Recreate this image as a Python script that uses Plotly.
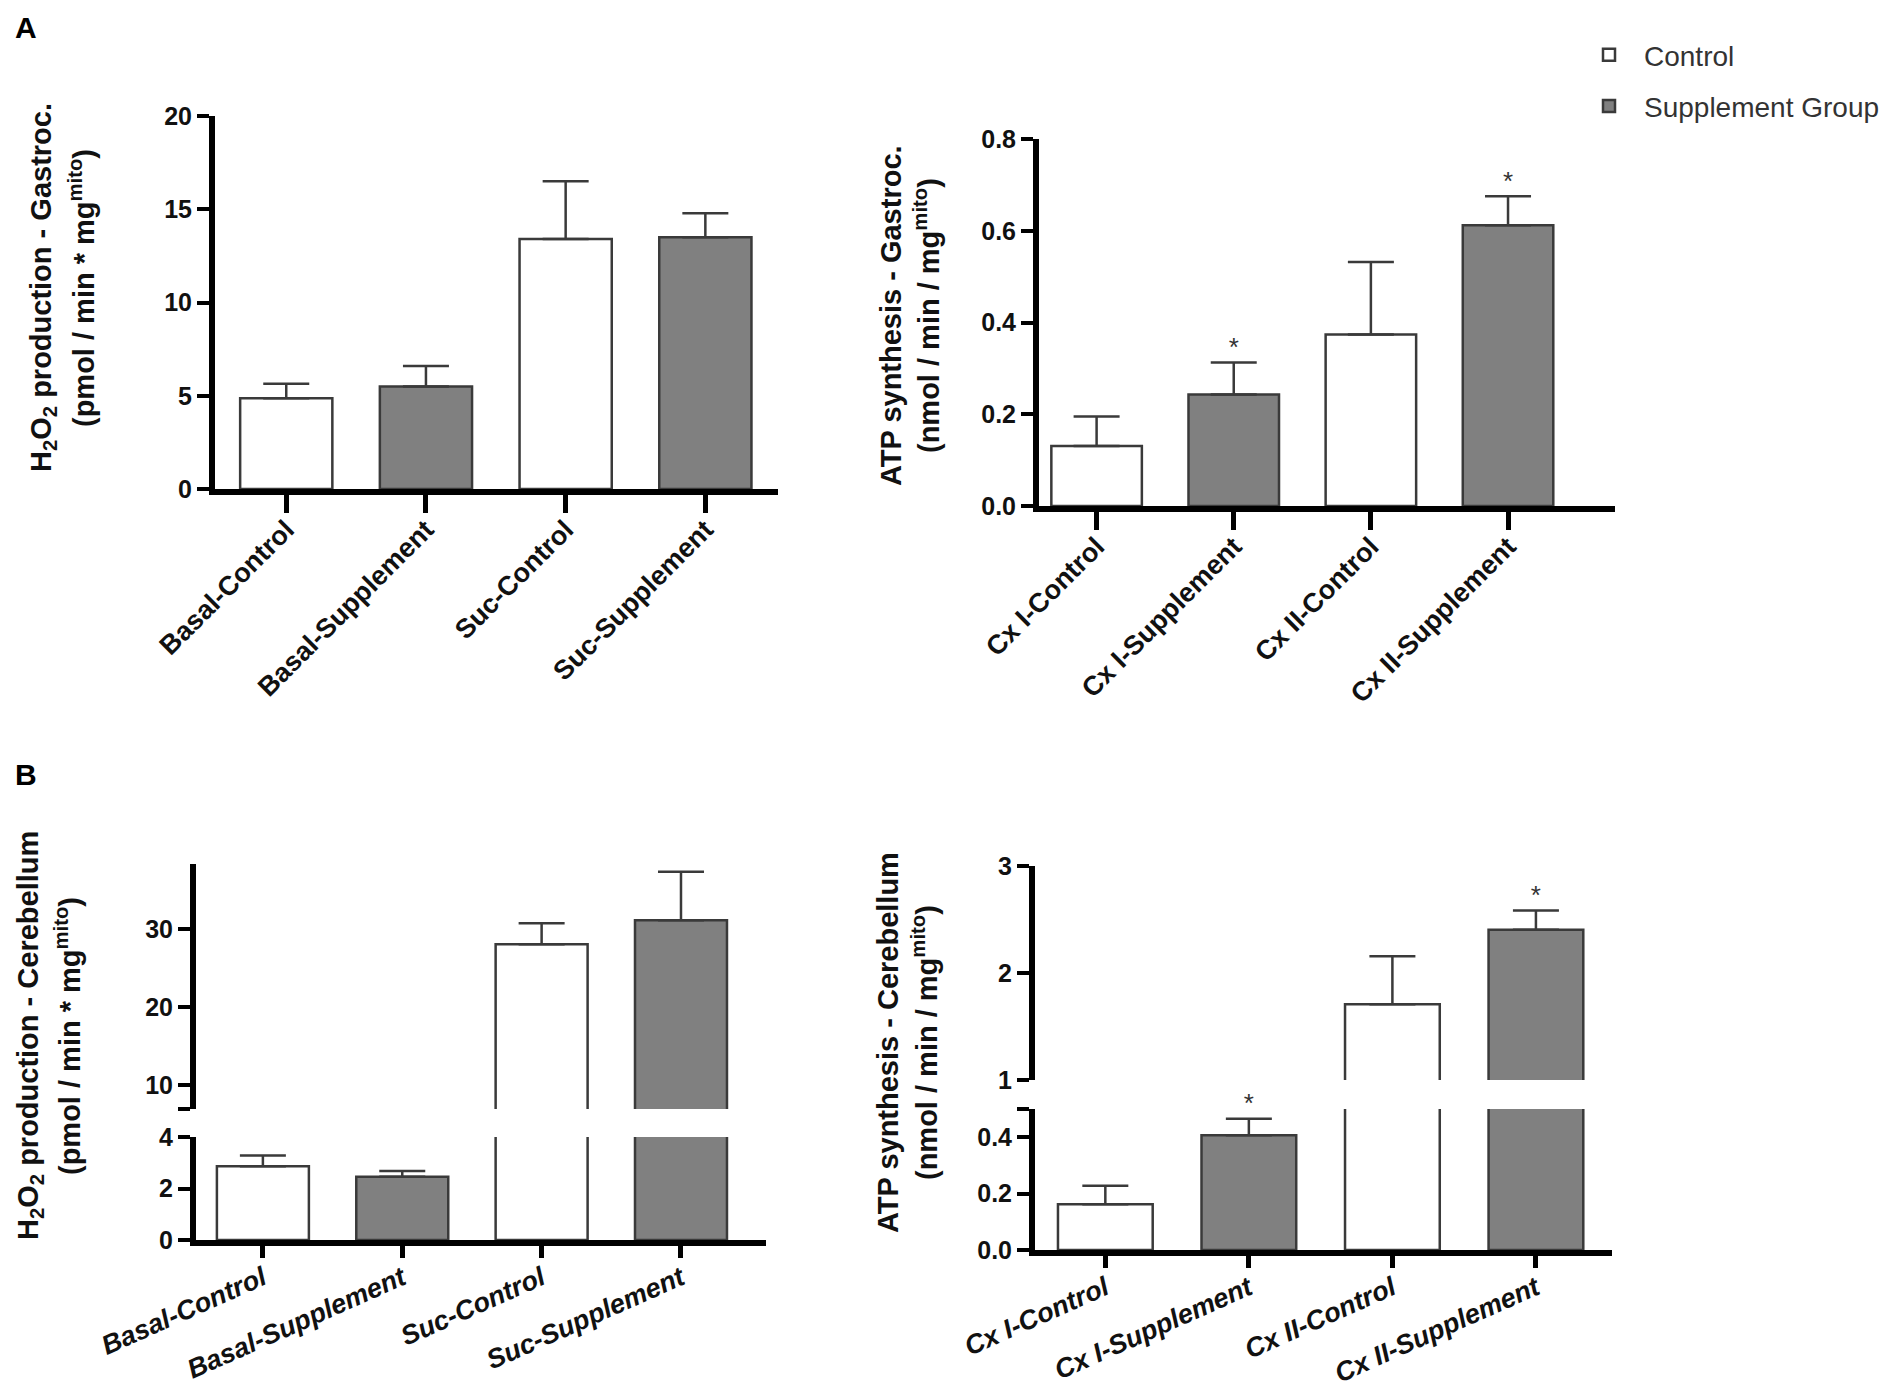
"""Mitochondrial H2O2 production / ATP synthesis, gastrocnemius (A) and cerebellum (B)."""
import plotly.graph_objects as go

W, H = 1902, 1399

GROUPS = ["Control", "Supplement Group"]
BAR_GROUP = [0, 1, 0, 1]  # which group each category belongs to

H2O2_CATS = ["Basal-Control", "Basal-Supplement", "Suc-Control", "Suc-Supplement"]
ATP_CATS = ["Cx I-Control", "Cx I-Supplement", "Cx II-Control", "Cx II-Supplement"]

# panel A, gastrocnemius
GASTRO_H2O2_MEAN = [4.87, 5.5, 13.4, 13.5]
GASTRO_H2O2_SEM = [0.77, 1.1, 3.1, 1.28]
GASTRO_ATP_MEAN = [0.131, 0.243, 0.374, 0.612]
GASTRO_ATP_SEM = [0.064, 0.07, 0.158, 0.063]
GASTRO_ATP_SIG = [False, True, False, True]

# panel B, cerebellum (broken y axes)
CEREB_H2O2_MEAN = [2.86, 2.46, 28.0, 31.1]
CEREB_H2O2_SEM = [0.42, 0.22, 2.7, 6.2]
CEREB_ATP_MEAN = [0.162, 0.407, 1.707, 2.405]
CEREB_ATP_SEM = [0.066, 0.058, 0.449, 0.179]
CEREB_ATP_SIG = [False, True, False, True]

# axis ranges (broken axes: lower / upper segment)
GASTRO_H2O2_RANGE = [0, 20]
GASTRO_ATP_RANGE = [0, 0.8]
CEREB_H2O2_LOW, CEREB_H2O2_HIGH = [0, 4], [6.9, 38.3]
CEREB_ATP_LOW, CEREB_ATP_HIGH = [0, 0.5], [1, 3]

FILL = ["#ffffff", "#808080"]
EDGE = "#3a3a3a"
INK = "#111111"
FONT = "Liberation Sans, Arial, sans-serif"


def xdom(left, right):
    return [left / W, right / W]


def ydom(top, bottom):
    return [1 - bottom / H, 1 - top / H]


def add_bars(fig, cats, mean, sem, xa, ya, showlegend=False):
    for g, name in enumerate(GROUPS):
        idx = [i for i, bg in enumerate(BAR_GROUP) if bg == g]
        fig.add_trace(go.Bar(
            x=[cats[i] for i in idx], y=[mean[i] for i in idx],
            width=0.66, name=name, legendgroup=name, showlegend=showlegend,
            marker=dict(color=FILL[g], line=dict(color=EDGE, width=2.5)),
            error_y=dict(type="data", symmetric=False,
                         array=[sem[i] for i in idx], arrayminus=[0] * len(idx),
                         width=23, thickness=2.5, color=EDGE),
            xaxis=xa, yaxis=ya, hoverinfo="skip",
        ))


def add_stars(fig, cats, mean, sem, sig, yrange, xa, ya):
    # asterisk sits just above the error cap of significant bars on this segment
    idx = [i for i, s in enumerate(sig)
           if s and yrange[0] <= mean[i] + sem[i] <= yrange[1]]
    fig.add_trace(go.Scatter(
        x=[cats[i] for i in idx], y=[mean[i] + sem[i] for i in idx],
        mode="text", text=["*"] * len(idx), textposition="top center",
        cliponaxis=False, showlegend=False,
        textfont=dict(family=FONT, size=26, color="#333333"),
        xaxis=xa, yaxis=ya, hoverinfo="skip",
    ))


def add_title(fig, line1, line2, x1, x2, yc):
    for txt, x in ((line1, x1), (line2, x2)):
        fig.add_annotation(x=x / W, y=1 - yc / H, xref="paper", yref="paper",
                           text=txt, textangle=-90, showarrow=False,
                           xanchor="center", yanchor="middle",
                           font=dict(family=FONT, size=29, color=INK, weight="bold"))


fig = go.Figure()
add_bars(fig, H2O2_CATS, GASTRO_H2O2_MEAN, GASTRO_H2O2_SEM, "x", "y", showlegend=True)
add_bars(fig, ATP_CATS, GASTRO_ATP_MEAN, GASTRO_ATP_SEM, "x2", "y2")
add_stars(fig, ATP_CATS, GASTRO_ATP_MEAN, GASTRO_ATP_SEM, GASTRO_ATP_SIG,
          GASTRO_ATP_RANGE, "x2", "y2")
# cerebellum: same bars on lower and upper segment of each broken axis
add_bars(fig, H2O2_CATS, CEREB_H2O2_MEAN, CEREB_H2O2_SEM, "x3", "y3")
add_bars(fig, H2O2_CATS, CEREB_H2O2_MEAN, CEREB_H2O2_SEM, "x3", "y4")
add_bars(fig, ATP_CATS, CEREB_ATP_MEAN, CEREB_ATP_SEM, "x4", "y5")
add_bars(fig, ATP_CATS, CEREB_ATP_MEAN, CEREB_ATP_SEM, "x4", "y6")
add_stars(fig, ATP_CATS, CEREB_ATP_MEAN, CEREB_ATP_SEM, CEREB_ATP_SIG,
          CEREB_ATP_LOW, "x4", "y5")
add_stars(fig, ATP_CATS, CEREB_ATP_MEAN, CEREB_ATP_SEM, CEREB_ATP_SIG,
          CEREB_ATP_HIGH, "x4", "y6")

tick_font = dict(family=FONT, size=25, color=INK, weight="bold")
xbase = dict(type="category", showline=True, linewidth=6, linecolor="black",
             ticks="outside", tickwidth=5, tickcolor="black",
             showgrid=False, zeroline=False, fixedrange=True, automargin=False)
ybase = dict(showline=True, linewidth=6, linecolor="black",
             ticks="outside", ticklen=12, tickwidth=4, tickcolor="black",
             showgrid=False, zeroline=False, tickfont=tick_font,
             fixedrange=True, automargin=False)
xa_font = dict(family=FONT, size=27, color=INK, weight="bold")
xb_font = dict(family=FONT, size=27, color=INK, weight="bold", style="italic")
xa_extra = dict(tickangle=-45, tickfont=xa_font, ticklen=18, ticklabelstandoff=-10)
xb_extra = dict(tickangle=-24, tickfont=xb_font, ticklen=12, ticklabelstandoff=-6)

fig.update_layout(
    xaxis=dict(xbase, domain=xdom(207, 770), range=[-0.51, 3.52], anchor="y",
               categoryarray=H2O2_CATS, **xa_extra),
    yaxis=dict(ybase, domain=ydom(108, 481), range=GASTRO_H2O2_RANGE, dtick=5, anchor="x"),
    xaxis2=dict(xbase, domain=xdom(1031, 1607), range=[-0.42, 3.78], anchor="y2",
                categoryarray=ATP_CATS, **xa_extra),
    yaxis2=dict(ybase, domain=ydom(131, 498), range=GASTRO_ATP_RANGE, dtick=0.2,
                tickformat=".1f", anchor="x2"),
    xaxis3=dict(xbase, domain=xdom(188, 758), range=[-0.48, 3.61], anchor="y3",
                categoryarray=H2O2_CATS, **xb_extra),
    yaxis3=dict(ybase, domain=ydom(1129, 1232), range=CEREB_H2O2_LOW,
                tickvals=[0, 2, 4], anchor="x3"),
    yaxis4=dict(ybase, domain=ydom(856, 1101), range=CEREB_H2O2_HIGH,
                tickvals=[CEREB_H2O2_HIGH[0], 10, 20, 30], ticktext=["", "10", "20", "30"],
                anchor="x3"),
    xaxis4=dict(xbase, domain=xdom(1027, 1604), range=[-0.49, 3.53], anchor="y5",
                categoryarray=ATP_CATS, **xb_extra),
    yaxis5=dict(ybase, domain=ydom(1101, 1242), range=CEREB_ATP_LOW,
                tickvals=[0, 0.2, 0.4, 0.5], ticktext=["0.0", "0.2", "0.4", ""], anchor="x4"),
    yaxis6=dict(ybase, domain=ydom(858, 1072), range=CEREB_ATP_HIGH,
                tickvals=[1, 2, 3], anchor="x4"),
    barmode="overlay",
    width=W, height=H, autosize=False,
    margin=dict(l=0, r=0, t=0, b=0, pad=0, autoexpand=False),
    paper_bgcolor="white", plot_bgcolor="white",
    font=dict(family=FONT, color=INK),
    legend=dict(x=1566 / W, y=1 - 22 / H, xanchor="left", yanchor="top",
                font=dict(family=FONT, size=28, color="#333333"),
                itemwidth=60, tracegroupgap=12, bgcolor="rgba(0,0,0,0)"),
    showlegend=True,
)

add_title(fig, "H<sub>2</sub>O<sub>2</sub> production - Gastroc.",
          "(pmol / min * mg<sup>mito</sup>)", 35, 74, 280)
add_title(fig, "ATP synthesis - Gastroc.",
          "(nmol / min / mg<sup>mito</sup>)", 883, 919, 308)
add_title(fig, "H<sub>2</sub>O<sub>2</sub> production - Cerebellum",
          "(pmol / min * mg<sup>mito</sup>)", 22, 60, 1028)
add_title(fig, "ATP synthesis - Cerebellum",
          "(nmol / min / mg<sup>mito</sup>)", 880, 917, 1035)

for letter, x, y in (("A", 18, 19), ("B", 18, 766)):
    fig.add_annotation(x=x / W, y=1 - y / H, xref="paper", yref="paper", text=letter,
                       showarrow=False, xanchor="center", yanchor="middle",
                       font=dict(family=FONT, size=30, color="black", weight="bold"))

fig.write_html("out.html")
